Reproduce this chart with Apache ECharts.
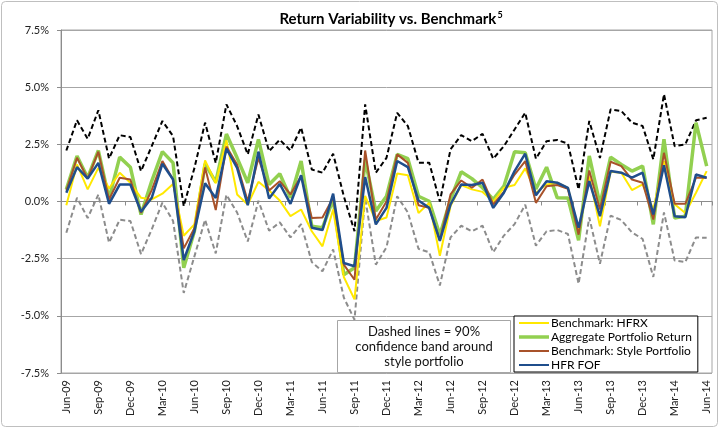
<!DOCTYPE html>
<html>
<head>
<meta charset="utf-8">
<script src="https://cdn.jsdelivr.net/npm/echarts@6/dist/echarts.min.js"></script>
<style>
  html, body { margin: 0; padding: 0; background: #fff; }
  #chart { width: 720px; height: 429px; }
</style>
</head>
<body>
<div id="chart"></div>
<script>
// months, Jun-09 .. Jun-14
const months = [
  'Jun-09', 'Jul-09', 'Aug-09', 'Sep-09', 'Oct-09', 'Nov-09', 'Dec-09',
  'Jan-10', 'Feb-10', 'Mar-10', 'Apr-10', 'May-10', 'Jun-10', 'Jul-10', 'Aug-10', 'Sep-10', 'Oct-10', 'Nov-10', 'Dec-10',
  'Jan-11', 'Feb-11', 'Mar-11', 'Apr-11', 'May-11', 'Jun-11', 'Jul-11', 'Aug-11', 'Sep-11', 'Oct-11', 'Nov-11', 'Dec-11',
  'Jan-12', 'Feb-12', 'Mar-12', 'Apr-12', 'May-12', 'Jun-12', 'Jul-12', 'Aug-12', 'Sep-12', 'Oct-12', 'Nov-12', 'Dec-12',
  'Jan-13', 'Feb-13', 'Mar-13', 'Apr-13', 'May-13', 'Jun-13', 'Jul-13', 'Aug-13', 'Sep-13', 'Oct-13', 'Nov-13', 'Dec-13',
  'Jan-14', 'Feb-14', 'Mar-14', 'Apr-14', 'May-14', 'Jun-14'
];

// monthly returns, %
const hfrx = [
  -0.16, 1.62, 0.53, 1.47, 0.57, 1.26, 0.82, 0.16, 0.09, 0.34, 0.77, -1.5, -1.0, 1.8, 0.8,
  2.68, 0.31, -0.13, 0.86, 0.48, 0.04, -0.64, -0.35, -1.3, -1.96, -0.35, -3.3, -4.28, 0.25, -0.86,
  -0.7, 1.22, 1.15, -0.5, -0.06, -2.37, -0.2, 0.72, 0.53, 0.42, 0.0, 0.6, 0.72, 1.45, 0.38,
  0.74, 0.82, 0.6, -1.23, 1.1, -1.08, 1.3, 1.26, 0.5, 0.75, -0.35, 1.77, -0.12, -0.5, 0.38, 1.33
];
const aggregate = [
  0.53, 1.99, 1.04, 2.23, 0.13, 1.94, 1.5, -0.57, 0.89, 2.18, 1.69, -2.9, -1.3, 1.65, 0.85,
  2.95, 1.91, 0.82, 2.72, 0.74, 1.21, 0.16, 1.77, -1.08, -1.15, 0.09, -3.2, -2.9, 1.82, -0.42,
  0.23, 2.06, 1.87, 0.23, 0.01, -1.47, 0.09, 1.3, 1.0, 0.6, 0.09, 0.67, 2.18, 2.13, 0.55,
  1.5, 0.16, 0.15, -1.7, 1.99, -0.13, 1.94, 1.62, 1.33, 1.55, -1.0, 2.72, -0.72, -0.64, 3.45, 1.55
];
const stylePort = [
  0.48, 1.91, 1.0, 2.18, 0.09, 1.04, 0.96, -0.5, 0.5, 1.77, 0.96, -2.05, -1.17, 1.49, -0.37,
  2.4, 1.62, 0.01, 1.91, 0.48, 0.89, 0.31, 1.11, -0.72, -0.7, 0.16, -2.76, -3.42, 2.23, -0.79,
  0.0, 2.06, 1.69, -0.16, -0.28, -1.69, 0.31, 0.92, 0.6, 0.96, -0.13, 0.42, 1.18, 1.77, -0.06,
  0.67, 0.72, 0.55, -1.45, 1.36, -0.35, 1.74, 1.55, 0.96, 0.82, -0.79, 2.13, -0.1, -0.1, 1.04, 1.04
];
const hfrFof = [
  0.38, 1.5, 1.0, 1.69, -0.1, 0.74, 0.74, -0.45, 0.16, 1.65, 0.96, -2.56, -1.3, 0.8, 0.15,
  2.31, 1.47, -0.16, 2.18, 0.13, 0.77, -0.1, 1.15, -1.15, -1.25, 0.34, -2.69, -2.83, 1.07, -1.0,
  -0.28, 1.77, 1.5, 0.04, -0.28, -1.72, -0.13, 0.74, 0.72, 0.82, -0.28, 0.38, 1.33, 2.09, 0.27,
  0.89, 0.82, 0.6, -1.15, 0.89, -0.64, 1.33, 1.26, 1.04, 1.26, -0.57, 1.59, -0.64, -0.69, 1.18, 1.04
];
// 90% confidence band around style portfolio
const bandUpper = [
  2.23, 3.55, 2.74, 3.99, 1.88, 2.9, 2.82, 1.33, 2.42, 3.52, 2.86, -0.2, 1.46, 3.45, 1.68,
  4.25, 3.3, 2.06, 3.8, 2.2, 2.7, 2.23, 3.23, 1.4, 1.26, 2.09, 0.23, -1.3, 4.25, 1.26,
  1.91, 3.88, 3.3, 1.7, 1.7, 0.0, 2.28, 2.9, 2.64, 2.96, 1.87, 2.42, 3.15, 3.88, 1.87,
  2.64, 2.69, 2.53, 0.53, 3.52, 1.9, 4.03, 3.96, 3.45, 3.3, 1.84, 4.69, 2.42, 2.5, 3.55, 3.66
];
const bandLower = [
  -1.37, 0.16, -0.72, 0.3, -1.8, -0.8, -0.85, -2.3, -1.22, -0.05, -0.85, -4.0, -2.4, -0.8, -2.27,
  0.29, -0.48, -1.75, 0.03, -1.28, -0.91, -1.57, -0.99, -2.65, -3.05, -2.1, -4.2, -5.17, 0.16, -2.76,
  -2.0, 0.23, -0.48, -2.07, -2.22, -3.67, -1.57, -1.06, -1.3, -1.06, -2.22, -1.49, -0.99, -0.14, -1.93,
  -1.3, -1.25, -1.42, -3.6, -0.7, -2.72, -0.62, -0.81, -1.35, -1.64, -3.3, -0.48, -2.58, -2.65, -1.57, -1.59
];

const FONT = 'Lato, "Open Sans", sans-serif';

const chart = echarts.init(document.getElementById('chart'));

const line = (name, data, color, width, dash) => ({
  name,
  type: 'line',
  data,
  symbol: 'none',
  animation: false,
  lineStyle: { color, width, type: dash ? [5, 3] : 'solid' },
  itemStyle: { color },
});

// flat bar used as the legend sample, h = thickness
const bar = (h) => 'path://M0,0H30V' + h + 'H0Z';

chart.setOption({
  animation: false,
  textStyle: { fontFamily: FONT },
  title: {
    text: '{a|Return Variability vs. Benchmark}{b|5}',
    left: 386,
    textAlign: 'center',
    top: 6,
    textStyle: {
      rich: {
        a: { fontFamily: FONT, fontSize: 15, fontWeight: 'bold', color: '#000' },
        b: { fontFamily: FONT, fontSize: 9, fontWeight: 'bold', color: '#000', padding: [0, 0, 8, 1] },
      },
    },
  },
  grid: {
    left: 61, right: 8, top: 30, bottom: 56,
    show: true, borderColor: '#a6a6a6', borderWidth: 1,
  },
  legend: {
    data: [
      { name: 'Benchmark: HFRX', icon: bar(2) },
      { name: 'Aggregate Portfolio Return', icon: bar(3.5) },
      { name: 'Benchmark: Style Portfolio', icon: bar(2) },
      { name: 'HFR FOF', icon: bar(2) },
    ],
    orient: 'vertical',
    left: 514,
    top: 316,
    itemWidth: 30,
    itemHeight: 12,
    itemGap: 2,
    padding: [1, 6, 1, 5],
    backgroundColor: '#fff',
    borderColor: '#000',
    borderWidth: 1,
    itemStyle: { borderWidth: 0 },
    textStyle: { fontFamily: FONT, fontSize: 12, color: '#000', padding: [0, 0, 0, -3] },
  },
  xAxis: [
    {
      type: 'category',
      data: months,
      boundaryGap: true,
      position: 'bottom',
      axisLine: { show: false, onZero: false },
      axisTick: { show: false },
      splitLine: { show: false },
      axisLabel: {
        interval: 2,
        rotate: 90,
        margin: 7,
        fontSize: 11,
        color: '#222',
        fontFamily: FONT,
      },
    },
    {
      type: 'category',
      data: months,
      boundaryGap: true,
      position: 'bottom',
      axisLine: { show: true, onZero: true, lineStyle: { color: '#8c8c8c', width: 1 } },
      axisTick: { show: true, interval: 2, length: 4, lineStyle: { color: '#8c8c8c' } },
      axisLabel: { show: false },
      splitLine: { show: false },
    },
  ],
  yAxis: {
    type: 'value',
    min: -7.5,
    max: 7.5,
    interval: 2.5,
    axisLine: { show: true, lineStyle: { color: '#8c8c8c' } },
    axisTick: { show: true, length: 4, lineStyle: { color: '#8c8c8c' } },
    splitLine: { lineStyle: { color: '#a6a6a6', width: 1 } },
    axisLabel: {
      formatter: (v) => v.toFixed(1) + '%',
      fontSize: 11,
      color: '#222',
      margin: 12,
      fontFamily: FONT,
    },
  },
  graphic: [
    {
      type: 'rect',
      shape: { x: 1.5, y: 1.5, width: 716, height: 425, r: 4 },
      style: { fill: 'none', stroke: '#bfbfbf', lineWidth: 1 },
      silent: true,
    },
    {
      type: 'group',
      left: 337,
      top: 320,
      children: [
        {
          type: 'rect',
          shape: { x: 0, y: 0, width: 173, height: 52 },
          style: { fill: '#fff', stroke: '#a6a6a6', lineWidth: 1 },
        },
        {
          type: 'text',
          x: 86.5,
          y: 26,
          style: {
            text: 'Dashed lines = 90%\nconfidence band around\nstyle portfolio',
            align: 'center',
            verticalAlign: 'middle',
            fontFamily: FONT,
            fontSize: 13,
            lineHeight: 15,
            fill: '#111',
          },
        },
      ],
      z: 10,
    },
  ],
  series: [
    line('Lower band', bandLower, '#8c8c8c', 2, true),
    line('Upper band', bandUpper, '#000000', 2, true),
    line('Aggregate Portfolio Return', aggregate, '#92D050', 3.5),
    line('Benchmark: HFRX', hfrx, '#FFE800', 2),
    line('Benchmark: Style Portfolio', stylePort, '#A8522A', 2),
    line('HFR FOF', hfrFof, '#1F4E8C', 2.5),
  ],
});
</script>
</body>
</html>
